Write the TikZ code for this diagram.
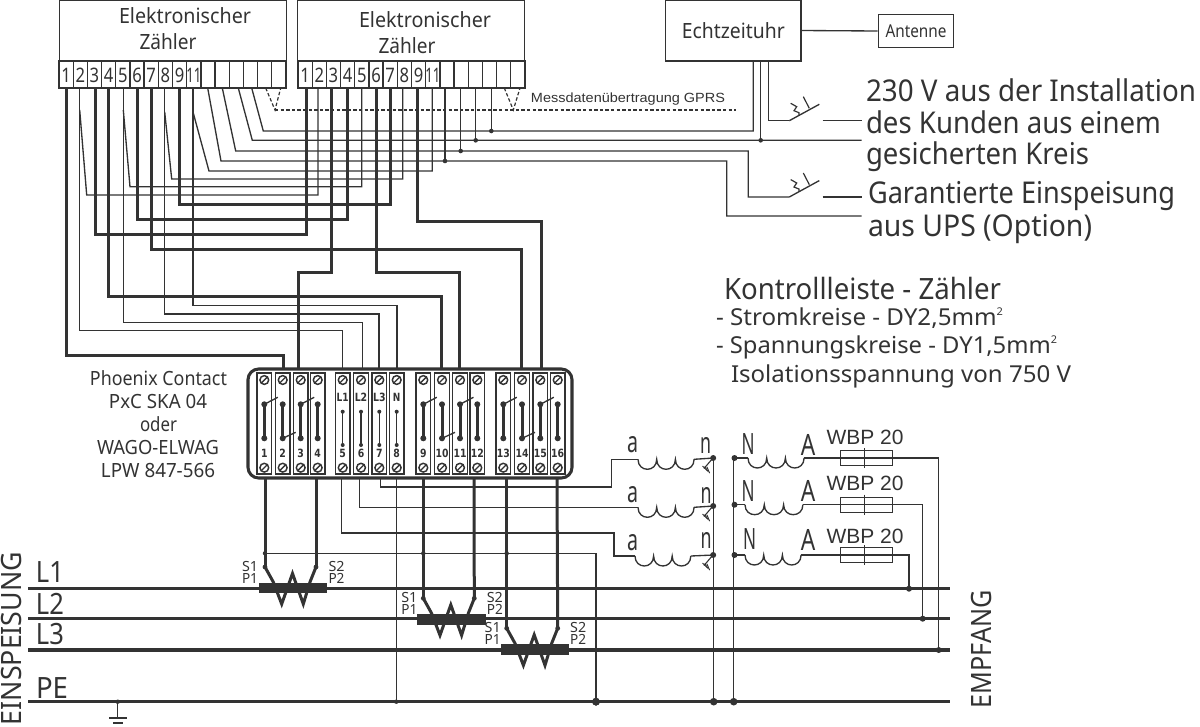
\documentclass[tikz,border=0pt]{standalone}
\usepackage{graphicx}
\usepackage{fontspec}
\setmainfont{Noto Sans}
\newfontfamily\arialf{Liberation Sans}
\newfontfamily\boldf{DejaVu Sans}
\definecolor{ink}{HTML}{333333}
% text stretched to a given width in reference pixels
\newcommand\fw[2]{\resizebox{\dimexpr#1pt*3/4\relax}{\height}{#2}}
\newcommand\sz[1]{\fontsize{#1pt}{#1pt}\selectfont}
\newcommand\supertwo{\raisebox{.75ex}{\sz{8}2}}
% wire: from A vertically to height Y, across, then to B
\newcommand\wire[4]{\draw[#1] (#2) |- (#4 |- 0,#3) -- (#4);}
\newcommand\wdot[2]{\fill[ink] (#1) circle[radius=#2];}
\newcommand\coil[4]{%
  \draw[tw] (#1,#2) .. controls (#1,#2+13.3) and (#1+#3,#2+13.3) .. (#1+#3,#2)
   .. controls (#1+#3,#2+13.3) and (#1+2*#3,#2+13.3) .. (#1+2*#3,#2)
   .. controls (#1+2*#3,#2+13.3) and (#1+3*#3,#2+13.3) .. (#1+3*#3,#2);}
\tikzset{
  tw/.style={draw=ink,line width=1pt},
  hw/.style={draw=ink,line width=2.25pt},
  busw/.style={draw=ink,line width=2.3pt},
  txt/.style={inner sep=0pt,outer sep=0pt,text=ink,anchor=center},
  ltxt/.style={txt,anchor=west},
  dashw/.style={draw=ink,line width=.9pt,dash pattern=on 2.6pt off 1.6pt},
  meterbox/.style={draw=ink,line width=1pt,minimum width=170.25pt,minimum height=45.75pt,inner sep=0pt},
  strip/.style={draw=ink,line width=1pt},
}
\begin{document}
\begin{tikzpicture}[x=0.75pt,y=-0.75pt]
\useasboundingbox (0,0) rectangle (1200,726);
\clip (0,0) rectangle (1200,726);

% ---------- boxes ----------
\node[meterbox] (meter1) at (172.8,30.5) {};
\node[meterbox] (meter2) at (411.3,30.5) {};
\node[draw=ink,line width=1pt,minimum width=101.5pt,minimum height=45.75pt,inner sep=0pt] (uhr) at (733.3,30.5) {};
\node[draw=ink,line width=1pt,minimum width=56.5pt,minimum height=25pt,inner sep=0pt] (ant) at (916,31) {};
\draw[tw] (uhr.east) -- (ant.west);

\node[txt] (t-e1) at (185,16) {\sz{15.75}\fw{132}{Elektronischer}};
\node[txt] (t-z1) at (168,42) {\sz{15.75}\fw{57}{Zähler}};
\node[txt] (t-e2) at (425,20) {\sz{15.75}\fw{132}{Elektronischer}};
\node[txt] (t-z2) at (407,46) {\sz{15.75}\fw{57}{Zähler}};
\node[txt] (t-uhr) at (733.3,31) {\sz{15.75}\fw{103}{Echtzeituhr}};
\node[txt] (t-ant) at (916,31) {\sz{13.3}\fw{61}{Antenne}};

% ---------- terminal cells ----------
\foreach \i in {0,...,15}{
  \draw[tw] (59+14.1875*\i,61) rectangle (59+14.1875*\i+14.1875,88);
  \draw[tw] (298+14.1875*\i,61) rectangle (298+14.1875*\i+14.1875,88);
}
\foreach \i in {0,...,8}{
  \pgfmathtruncatemacro\n{\i+1}
  \node[txt] (dn1-\n) at (66.1+14.1875*\i,75) {\sz{15}\fw{9.5}{\n}};
  \node[txt] (dn2-\n) at (305.1+14.1875*\i,75) {\sz{15}\fw{9.5}{\n}};
}
\node[txt] (dn1-11) at (193.8,75) {\sz{15}\fw{15}{11}};
\node[txt] (dn2-11) at (432.8,75) {\sz{15}\fw{15}{11}};

% ---------- named terminal points ----------
\foreach \x [count=\k] in {66.7,79.7,95.3,108.3,123.3,137.3,151,164.7,179.3,193,207.7,222.3,238.3,251.7}
  \coordinate (m1-\k) at (\x,88);
\foreach \x [count=\k] in {306,318,331.7,347.3,361.7,376,390.7,402.7,417.3,432.3,445,460.7,475.7,491.3}
  \coordinate (m2-\k) at (\x,88);
\foreach \k/\x in {2/283,3/298,5/342.7,6/362.7,7/379,8/397,10/441,11/459,14/521,15/541}
  \coordinate (bt-\k) at (\x,369);
\foreach \k/\x in {1/265,4/316,5/341.7,6/359.7,7/380.7,8/396.3,9/423.3,12/474,13/506.7,16/557}
  \coordinate (bb-\k) at (\x,478);
\coordinate (uhr-a) at (753.3,61);
\coordinate (uhr-c) at (760.7,61);
\coordinate (uhr-e) at (768.3,61);
\coordinate (sw1a) at (789.3,120.7);
\coordinate (sw2a) at (789.3,197);
\coordinate (outL) at (861.7,140.3);
\coordinate (outU) at (861.7,216);
\coordinate (pe-l) at (28,701.7);
\coordinate (pe-r) at (950,701.7);

% ---------- wires meter -> Phoenix / meter -> meter ----------
\wire{hw}{m1-1}{355}{bt-2}
\wire{tw}{m1-2}{330.7}{bt-5}
\wire{tw}{m1-5}{322.7}{bt-6}
\wire{tw}{m1-8}{314}{bt-7}
\wire{tw}{m1-10}{305.7}{bt-8}
\wire{hw}{m1-4}{296}{bt-10}
\wire{hw}{m1-7}{249.5}{bt-14}
\wire{hw}{m2-3}{272.7}{bt-3}
\wire{hw}{m2-6}{272}{bt-11}
\wire{hw}{m2-9}{221}{bt-15}
\wire{hw}{m1-3}{234}{m2-1}
\wire{hw}{m1-6}{219.3}{m2-4}
\wire{hw}{m1-9}{204}{m2-7}
\draw[tw] (m1-2 |- 0,110) -- (86.7,195) -| (m2-2);
\draw[tw] (m1-5 |- 0,110) -- (130,186.7) -| (m2-5);
\draw[tw] (m1-8 |- 0,112) -- (171.7,179) -| (m2-8);
\draw[tw] (m1-10 |- 0,112) -- (209,171) -| (m2-10);

% ---------- supply wires ----------
\draw[tw] (m1-11) -- (221,161) -- (726.7,161) |- (outU);
\draw[tw] (m1-12) -- (235.7,151) -- (748.3,151) |- (sw2a);
\draw[tw] (m1-13) -- (252.3,140.3) -- (outL);
\draw[tw] (m1-14) -- (263.3,131) -| (uhr-a);
\draw[tw] (uhr-c) -- (uhr-c |- outL);
\draw[tw] (uhr-e) |- (sw1a);
\foreach \k/\y in {11/161,12/151,13/140.3,14/131}{
  \draw[tw] (m2-\k) -- (m2-\k |- 0,\y);
  \wdot{m2-\k |- 0,\y}{2.3}
}
\wdot{uhr-c |- outL}{2.3}

% switches
\foreach \y/\oy in {120.7/sw1,197/sw2}{
  \begin{scope}[shift={(789.3,\y)}]
    \draw[tw] (0,0) -- (30,-16.4);
    \draw[tw,line width=.9pt] (1.4,-17.4) -- (7.4,-14) -- (4.7,-10) -- (9.7,-8) -- (9.7,-5.4);
    \draw[tw,line width=.9pt] (14,-24) -- (20,-12.4);
    \draw[tw] (33.4,0) -- (72.4,0);
  \end{scope}
}

% GPRS dashed
\coordinate (v1) at (275,110);
\coordinate (v2) at (513.3,110);
\draw[dashw] (265.7,88) -- (v1) -- (280.7,88);
\draw[dashw] (504.3,88) -- (v2) -- (520,88);
\draw[dashw] (v1) -- (736,110);
\node[txt] (t-gprs) at (628,99) {\arialf\sz{10}\fw{194}{Messdatenübertragung GPRS}};

% ---------- Phoenix block ----------
\node[draw=ink,line width=2.3pt,rounded corners=8pt,minimum width=243pt,minimum height=81.75pt,inner sep=0pt] (block) at (410,423.5) {};
\foreach \x [count=\k] in {264.3,282.7,300.7,317.7,342.7,361,379.3,396.7,423.3,442,460,477.3,503.3,522,540.3,557.7}{
  \coordinate (st-\k) at (\x,0);
  \draw[strip] (\x-7.2,373) rectangle (\x+7.2,474);
  \draw[tw,line width=1.1pt] (\x,380) circle[radius=4.4];
  \draw[tw] (\x-3,383) -- (\x+3,377);
  \draw[tw,line width=1.1pt] (\x,467.7) circle[radius=4.4];
  \draw[tw] (\x-3,470.7) -- (\x+3,464.7);
}
\foreach \k in {1,2,3,4,9,10,11,12,13,14,15,16}{
  \draw[hw] (st-\k |- 0,404.3) -- (st-\k |- 0,438.3);
  \wdot{st-\k |- 0,404.3}{3}
  \wdot{st-\k |- 0,438.3}{3}
}
\foreach \k in {5,6,7,8}{
  \draw[tw] (st-\k |- 0,411.7) -- (st-\k |- 0,445);
  \wdot{st-\k |- 0,411.7}{2}
  \wdot{st-\k |- 0,445}{2}
}
\foreach \k in {1,3,9,11,13,15}
  \draw[tw] (st-\k |- 0,404.3) -- ++(13.5,-7);
\foreach \k in {2,10,14}
  \draw[tw] (st-\k |- 0,438.3) -- ++(13,-6);
\foreach \k/\t/\w in {5/L1/12,6/L2/12.5,7/L3/12.5,8/N/7.5}
  \node[txt] (lab-\k) at (st-\k |- 0,397.7) {\boldf\bfseries\sz{8.5}\fw{\w}{\t}};
\foreach \k in {1,...,9}
  \node[txt] (num-\k) at (st-\k |- 0,453.5) {\boldf\bfseries\sz{8.5}\fw{6.5}{\k}};
\foreach \k in {10,...,16}
  \node[txt] (num-\k) at (st-\k |- 0,453.5) {\boldf\bfseries\sz{8.5}\fw{13}{\k}};

\node[txt] (ph1) at (158.5,378) {\sz{14.7}\fw{137}{Phoenix Contact}};
\node[txt] (ph2) at (158,401) {\sz{14.7}\fw{98}{PxC SKA 04}};
\node[txt] (ph3) at (158.5,424) {\sz{14.7}\fw{37}{oder}};
\node[txt] (ph4) at (158,447) {\sz{14.7}\fw{122}{WAGO-ELWAG}};
\node[txt] (ph5) at (158,470) {\sz{14.7}\fw{114}{LPW 847-566}};

% ---------- buses ----------
\draw[busw] (28,588.7) coordinate (l1-l) -- (950,588.7) coordinate (l1-r);
\draw[busw] (28,618.7) coordinate (l2-l) -- (950,618.7) coordinate (l2-r);
\draw[busw] (28,650) coordinate (l3-l) -- (950,650) coordinate (l3-r);
\draw[busw] (pe-l) -- (pe-r);
\node[ltxt] (tl1) at (36,572) {\sz{22}\fw{28}{L1}};
\node[ltxt] (tl2) at (36,604) {\sz{22}\fw{28}{L2}};
\node[ltxt] (tl3) at (36,634) {\sz{22}\fw{28}{L3}};
\node[ltxt] (tpe) at (36,688) {\sz{22}\fw{32}{PE}};
\node[txt,rotate=90,anchor=east] (ein) at (11.5,552) {\sz{21}\fw{173}{EINSPEISUNG}};
\node[txt,rotate=90] (emp) at (981,649) {\sz{21}\fw{118}{EMPFANG}};

% earth
\wdot{117.7,701.7}{2.2}
\draw[tw] (117.7,701.7) -- (117.7,718);
\draw[tw] (109,718) -- (126.7,718);
\draw[tw] (113,723) -- (123,723);

% ---------- current transformers ----------
\foreach \xl/\y/\a/\b/\c/\d in {265/567/bb-1/bb-4/ct1/-15,423.3/598.3/bb-9/bb-12/ct2/-14,506.7/628.3/bb-13/bb-16/ct3/-14}{
  \draw[hw] (\a) -- (\xl,\y);
  \draw[hw] (\b) -- (\xl+51,\y);
  \begin{scope}[shift={(\xl,\y)}]
    \draw[hw,miter limit=10] (0,0) -- (8.3,15) -- (16.7,37) -- (27.5,6.5) -- (38.3,37) -- (45,15) -- (51,0);
    \fill[ink] (-6,15.7) rectangle (62.3,26.4);
    \fill[ink] (0,0) circle[radius=2.4];
    \fill[ink] (51,0) circle[radius=2.4];
    \node[txt] (\c-s1) at (\d,-1) {\sz{10.5}\fw{16}{S1}};
    \node[txt] (\c-p1) at (\d,11.5) {\sz{10.5}\fw{16}{P1}};
    \node[txt] (\c-s2) at (71.5,-1) {\sz{10.5}\fw{16}{S2}};
    \node[txt] (\c-p2) at (71.5,11.5) {\sz{10.5}\fw{16}{P2}};
  \end{scope}
}

% S1 common and PE returns
\draw[tw] (265,553.3) -- (596,553.3) -- (596,701.7);
\foreach \x in {265,423.3,506.7} \wdot{\x,553.3}{2.2}
\wdot{596,701.7}{3.8}
\draw[tw] (bb-8) -- (bb-8 |- pe-l);
\wdot{bb-8 |- pe-l}{2.2}

% ---------- instrument coils (voltage / current) ----------
\draw[tw] (bb-7) |- (611.7,487) |- (638,459.3);
\draw[tw] (bb-6) |- (638,507.3);
\draw[tw] (bb-5) |- (614,533) |- (635,556);
\coil{638}{459.3}{18.7}{}
\coil{638}{507.3}{18.7}{}
\coil{635}{556}{18.6}{}
\draw[tw] (694,459.3) -- (713.7,458);
\draw[tw] (694,507.3) -- (713.7,506);
\draw[tw] (690.8,556) -- (713.7,555);
\draw[tw] (713.7,458) -- (713.7,701.7);
\foreach \y in {458,506,555}{
  \wdot{713.2,\y}{3}
  \draw[tw,line width=.8pt] (713,\y) -- (704,\y+10.5);
  \foreach \d in {0,2.2,4.4}
    \draw[tw,line width=.7pt] (702.5+\d,\y+8+\d*.2) -- (707+\d*.6,\y+12.5+\d*.6);
}
\wdot{713.7,701.7}{3.8}
\draw[tw] (733.7,458) -- (733.7,701.7);
\wdot{733.7,701.7}{3.8}

% current side
\foreach \y/\xs/\w/\xe/\ly/\bus/\yb in {458/748/18.7/938.7/437/l3-r/650,504.7/745/19.3/922.7/483/l2-r/618.7,555/745/18.7/909/536/l1-r/588.7}{
  \wdot{734.5,\y}{3}
  \draw[tw] (734.5,\y) -- (\xs,\y);
  \coil{\xs}{\y}{\w}{}
  \draw[tw] (\xs+3*\w,\y) -- (840.7,\y);
  \draw[tw] (840.7,\y-7.5) rectangle (892.3,\y+7.5);
  \draw[tw] (864.7,\y-10) -- (864.7,\y+10);
  \draw[tw] (840.7,\y) -- (892.3,\y);
  \draw[tw] (892.3,\y) -- (\xe,\y) -- (\xe,\yb);
  \wdot{\xe,\yb}{3}
  \node[txt] at (865,\ly) {\arialf\sz{15.5}\fw{77}{WBP 20}};
}

% coil letters
\foreach \lab/\x/\y/\w in {a/632.7/445/11, n/705.7/445/11, a/632.7/495/11, n/706/495/11, a/632.7/543/11, n/706/540/11,
   N/748/444/13, A/808/445/14.5, N/748/491/13, A/808/491/14.5, N/749.7/539/13, A/808/540/14.5}{
  \node[txt] at (\x,\y) {\sz{22}\fw{\w}{\lab}};
}

% ---------- right hand texts ----------
\node[ltxt] (r1) at (866,90)  {\sz{22.5}\fw{330}{230 V aus der Installation}};
\node[ltxt] (r2) at (866,122) {\sz{22.5}\fw{295}{des Kunden aus einem}};
\node[ltxt] (r3) at (866,157) {\sz{22.5}\fw{223}{gesicherten Kreis}};
\node[ltxt] (r4) at (868,196) {\sz{22.5}\fw{307}{Garantierte Einspeisung}};
\node[ltxt] (r5) at (868,229) {\sz{22.5}\fw{224}{aus UPS (Option)}};
\node[ltxt] (k1) at (724,288) {\sz{22}\fw{277}{Kontrollleiste - Zähler}};
\node[ltxt] (k2) at (716,318) {\sz{17.5}\fw{287}{- Stromkreise - DY2,5mm\supertwo}};
\node[ltxt] (k3) at (716,347) {\sz{17.5}\fw{341}{- Spannungskreise - DY1,5mm\supertwo}};
\node[ltxt] (k4) at (731,376) {\sz{17.5}\fw{340}{Isolationsspannung von 750 V}};
\end{tikzpicture}
\end{document}
